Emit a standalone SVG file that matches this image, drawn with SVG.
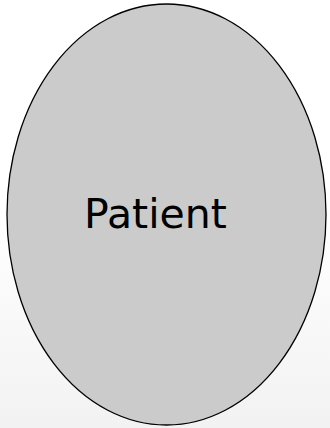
<svg xmlns="http://www.w3.org/2000/svg" width="330" height="428" viewBox="0 0 330 428">
<defs>
<linearGradient id="bg" x1="0" y1="0" x2="0" y2="1">
<stop offset="0" stop-color="#ffffff"/>
<stop offset="0.5" stop-color="#ffffff"/>
<stop offset="1" stop-color="#f2f2f2"/>
</linearGradient>
<style>
.node{fill:#cbcbcb;stroke:#000;stroke-width:1.3}
.lbl{font-family:"DejaVu Sans",sans-serif;font-size:41px;fill:#000;text-anchor:middle}
</style>
</defs>
<rect width="330" height="428" fill="url(#bg)"/>
<g id="patient">
<ellipse class="node" cx="166.5" cy="214.5" rx="159.5" ry="210.5"/>
<text class="lbl" x="155.5" y="228">Patient</text>
</g>
<g id="connectors"/>
</svg>
